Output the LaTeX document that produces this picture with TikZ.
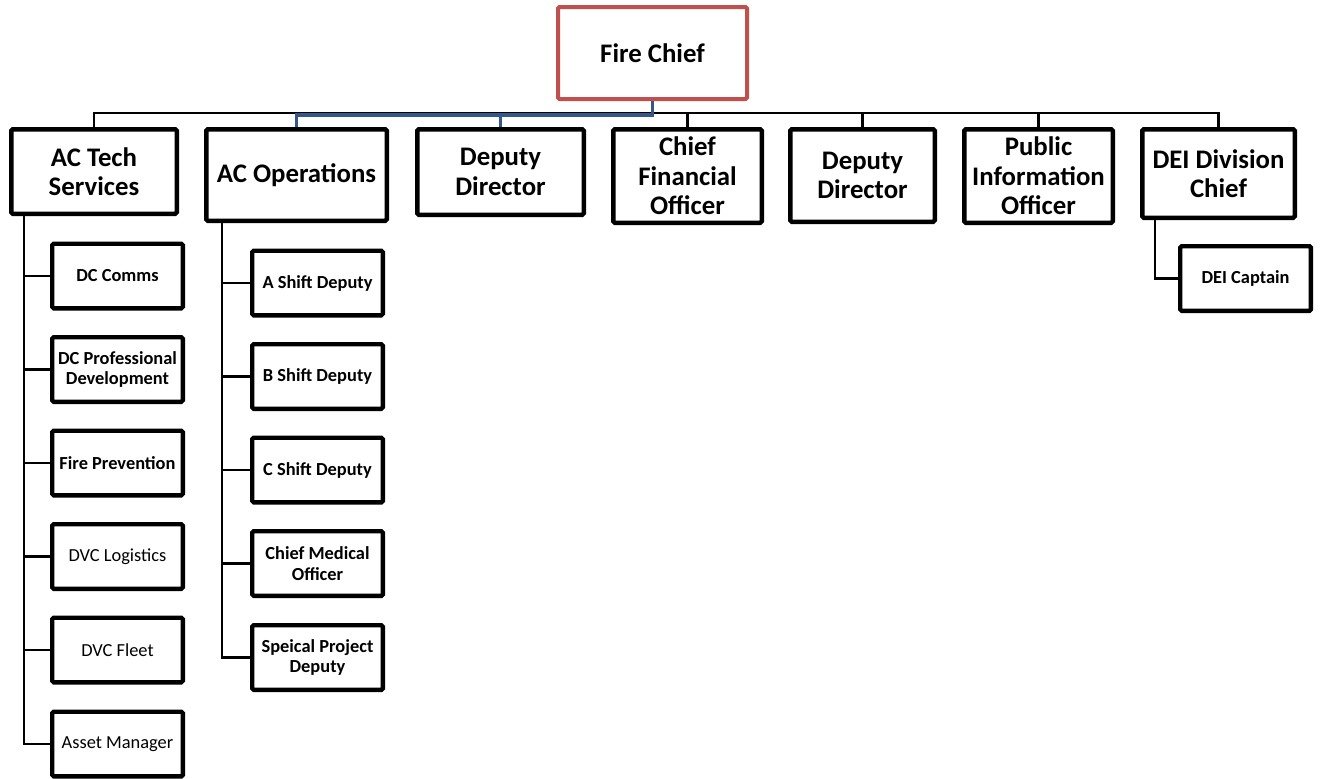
\documentclass[tikz,border=0pt]{standalone}
\usepackage{fontspec}
\setmainfont{Carlito}
\definecolor{chiefred}{RGB}{192,80,77}
\definecolor{linkblue}{RGB}{52,88,138}
\begin{document}
\begin{tikzpicture}[x=1pt,y=-1pt,
  toprole/.style={draw=black, line width=4.5pt, inner sep=0pt, align=center,
    rounded corners=1.5pt, font=\bfseries\fontsize{26.8}{29.5}\selectfont},
  chiefbox/.style={toprole, draw=chiefred, line width=4pt},
  subrole/.style={draw=black, line width=4.3pt, inner sep=0pt, align=center,
    rounded corners=1.5pt, minimum width=130.7, minimum height=64.7,
    font=\bfseries\fontsize{18.4}{20.5}\selectfont},
  plainrole/.style={subrole, font=\fontsize{18.4}{20.5}\selectfont},
  bus/.style={draw=black, line width=2.2pt},
  conn/.style={draw=black, line width=2.7pt},
  chain/.style={draw=linkblue, line width=3.2pt}]
\useasboundingbox (0,0) rectangle (1323,779);

% Fire Chief
\node[chiefbox, minimum width=189, minimum height=92] (fc) at (652.5,53) {Fire Chief};

% Direct reports
\node[toprole, minimum width=165.5, minimum height=84.5] (act) at (94,171.5) {AC Tech\\Services};
\node[toprole, minimum width=180.5, minimum height=91.5] (aco) at (296.5,175) {AC Operations};
\node[toprole, minimum width=166.5, minimum height=85.5] (dd1) at (500.5,172) {Deputy\\Director};
\node[toprole, minimum width=148.5, minimum height=93.5] (cfo) at (687.5,176) {Chief\\Financial\\Officer};
\node[toprole, minimum width=144.5, minimum height=92.5] (dd2) at (862.5,175.5) {Deputy\\Director};
\node[toprole, minimum width=148.5, minimum height=93.5] (pio) at (1038.5,176) {Public\\Information\\Officer};
\node[toprole, minimum width=152.5, minimum height=88.5] (dei) at (1218.5,173.5) {DEI Division\\Chief};

% AC Tech Services team
\node[subrole] (comms) at (117.5,276) {DC Comms};
\node[subrole] (profdev) at (117.5,369.5) {DC Professional\\Development};
\node[subrole] (prevent) at (117.5,463) {Fire Prevention};
\node[plainrole] (logist) at (117.5,556.5) {DVC Logistics};
\node[plainrole] (fleet) at (117.5,650) {DVC Fleet};
\node[plainrole] (asset) at (117.5,744) {Asset Manager};

% AC Operations team
\node[subrole] (ashift) at (317.5,283) {A Shift Deputy};
\node[subrole] (bshift) at (317.5,376.5) {B Shift Deputy};
\node[subrole] (cshift) at (317.5,470) {C Shift Deputy};
\node[subrole] (medical) at (317.5,563.5) {Chief Medical\\Officer};
\node[subrole] (special) at (317.5,657.5) {Speical Project\\Deputy};

% DEI team
\node[subrole] (deicap) at (1245.5,278.5) {DEI Captain};

% Bus under the Fire Chief
\path (fc.south) ++(0,12) coordinate (busmid);
\foreach \n in {act,aco,dd1,cfo,dd2,pio,dei}
  \draw[bus] (busmid) -| (\n.north);

% Highlighted chain to AC Operations and Deputy Director
\path (fc.south) ++(0,14) coordinate (chainmid);
\draw[chain] (fc.south) -- (chainmid) -| (aco.north);
\draw[chain] (chainmid) -| (dd1.north);

% Team spines
\path (act.south west) ++(15,0) coordinate (actspine);
\foreach \n in {comms,profdev,prevent,logist,fleet,asset}
  \draw[conn] (actspine) |- (\n.west);

\path (aco.south west) ++(18,0) coordinate (acospine);
\foreach \n in {ashift,bshift,cshift,medical,special}
  \draw[conn] (acospine) |- (\n.west);

\path (dei.south west) ++(15,0) coordinate (deispine);
\draw[conn] (deispine) |- (deicap.west);
\end{tikzpicture}
\end{document}
